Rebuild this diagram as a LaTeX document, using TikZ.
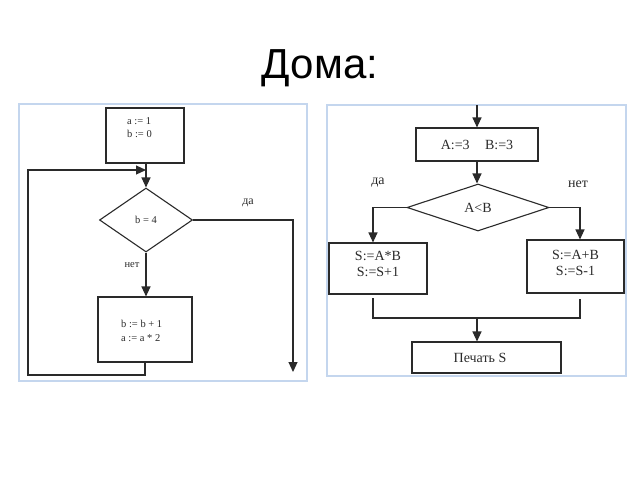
\documentclass[tikz,border=0pt]{standalone}
\usepackage{fontspec}
\setmainfont{Liberation Serif}
\newfontfamily\titlefont{Liberation Sans}
\usetikzlibrary{shapes.geometric,arrows.meta}
\definecolor{framecol}{HTML}{C4D6EE}
\definecolor{linecol}{HTML}{2A2A2A}
\tikzset{
  panel/.style={draw=framecol, line width=1.2pt},
  blk/.style={draw=linecol, line width=1.1pt, rectangle, inner sep=0pt},
  dia/.style={draw=linecol, line width=1.1pt, diamond, inner sep=0pt},
  conn/.style={draw=linecol, line width=1.1pt},
  arr/.style={conn, -{Triangle[length=10pt,width=9pt]}},
  ltxt/.style={font=\fontsize{10.5}{13.5}\selectfont, text=linecol, inner sep=0pt},
  rtxt/.style={font=\fontsize{14}{16}\selectfont, text=linecol, inner sep=0pt},
  ttl/.style={font=\titlefont\fontsize{42}{46}\selectfont, inner sep=0pt}
}
\begin{document}
\begin{tikzpicture}[x=1pt,y=-1pt]
\useasboundingbox[fill=white] (0,0) rectangle (640,480);
\node[ttl, anchor=base] (title) at (320,78) {Дома:};

% left panel
\draw[panel] (19,104) rectangle (307,381);
\node[blk, minimum width=78pt, minimum height=55pt] (b1) at (145,135.5) {};
\node[ltxt, align=left, anchor=west] (t1) at (127,127.5) {a := 1\\b := 0};
\node[dia, minimum width=93pt, minimum height=64pt, ltxt] (d1) at (146,220) {b = 4};
\node[blk, minimum width=94pt, minimum height=65pt] (b2) at (145,329.5) {};
\node[ltxt, align=left, anchor=west] (t2) at (121,331) {b := b + 1\\a := a * 2};
\node[ltxt, font=\fontsize{12}{14}\selectfont] (da1) at (248,203) {да};
\node[ltxt] (net1) at (132,265) {нет};
\coordinate (lj) at (146,170);
\coordinate (lb) at (28,375);
\coordinate (lt) at (28,170);
\coordinate (yend) at (293,372);
\draw[arr] (d1.north |- b1.south) -- (d1.north);
\draw[arr] (b2.south) |- (lb) -- (lt) -- (lj);
\draw[arr] (d1.east) -| (yend);
\draw[arr] (d1.south) -- (d1.south |- b2.north);

% right panel
\draw[panel] (327,105) rectangle (626,376);
\coordinate (rin) at (477,105);
\node[blk, minimum width=122pt, minimum height=33pt, rtxt] (bA) at (477,144.5) {A:=3\hspace{1.1em}B:=3};
\node[dia, minimum width=142pt, minimum height=47pt, rtxt] (d2) at (478,207.5) {A<B};
\node[blk, minimum width=98pt, minimum height=51pt] (bL) at (378,268.5) {};
\node[rtxt, align=center] (tL) at (378,264) {S:=A*B\\S:=S+1};
\node[blk, minimum width=97pt, minimum height=53pt] (bR) at (575.5,266.5) {};
\node[rtxt, align=center] (tR) at (575.5,262.5) {S:=A+B\\S:=S-1};
\node[blk, minimum width=149pt, minimum height=31pt] (bP) at (486.5,357.5) {};
\node[rtxt] (tP) at (480,358) {Печать S};
\node[rtxt] (da2) at (378,183) {да};
\node[rtxt] (net2) at (578,184) {нет};
\coordinate (jl) at (373,298);
\coordinate (jr) at (580,299);
\coordinate (jm) at (477,318);
\draw[arr] (rin) -- (bA.north);
\draw[arr] (bA.south) -- (bA.south |- d2.north);
\draw[arr] (d2.west) -| ([xshift=-5pt]bL.north);
\draw[arr] (d2.east) -| ([xshift=4.5pt]bR.north);
\draw[conn] (jl) |- (jm) -| (jr);
\draw[arr] (jm) -- (jm |- bP.north);
\end{tikzpicture}
\end{document}
